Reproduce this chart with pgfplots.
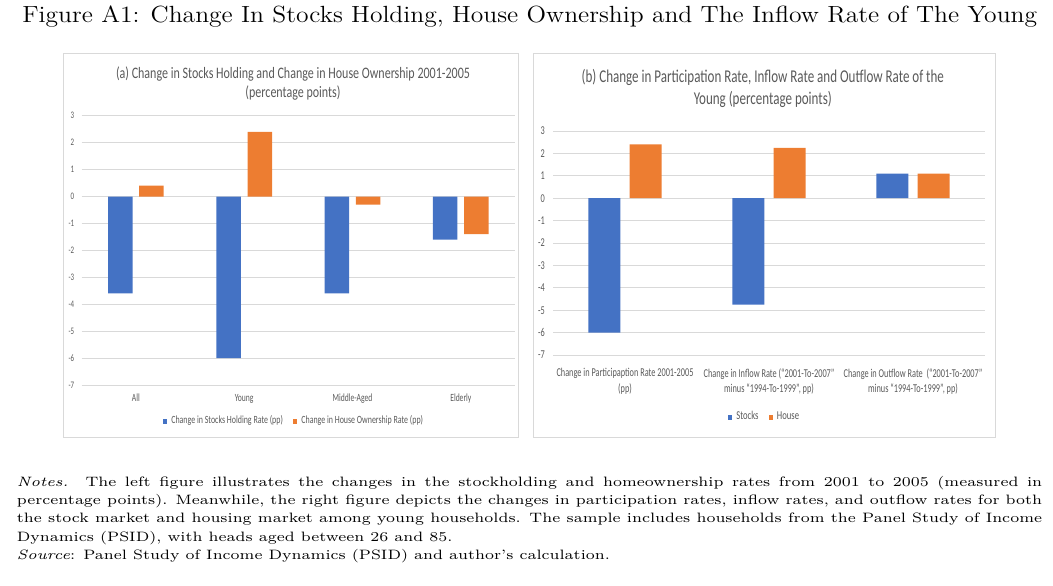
\documentclass[border=0pt]{standalone}
\usepackage{fontspec}
\usepackage{graphicx}
\usepackage{pgfplots}
\usepackage{pgfplotstable}
\pgfplotsset{compat=1.18}
\newfontfamily\carlito{Carlito}
\definecolor{xblue}{HTML}{4472C4}
\definecolor{xorange}{HTML}{ED7D31}
\definecolor{xgrid}{HTML}{D9D9D9}
\definecolor{xtext}{HTML}{595959}
\definecolor{xframe}{HTML}{D9D9D9}

\newlength\wN \newlength\wNb \newlength\wNc \newlength\wT \newlength\wA \newlength\wB
\newcommand\notesfont{\fontsize{6.8}{8}\selectfont}
\newcommand\titlefont{\fontsize{11.7}{14}\selectfont}
\newcommand\ptafont{\carlito\fontsize{8}{9.5}\selectfont}
\newcommand\ptbfont{\carlito\fontsize{9}{11}\selectfont}
\newcommand\hs[1]{\scalebox{0.72}[1]{#1}}
\newcommand\lineA{\textit{Notes.}\ \ The left figure illustrates the changes in the stockholding and homeownership rates from 2001 to 2005 (measured in}
\newcommand\lineB{percentage points). Meanwhile, the right figure depicts the changes in participation rates, inflow rates, and outflow rates for both}
\newcommand\lineC{the stock market and housing market among young households. The sample includes households from the Panel Study of Income}

\pgfplotstableread{
cat stocks house
0 -3.6 0.4
1 -6.0 2.4
2 -3.6 -0.3
3 -1.6 -1.4
}\dataA
\pgfplotstableread{
cat stocks house
0 -6.0 2.4
1 -4.75 2.25
2 1.1 1.1
}\dataB

\pgfplotsset{
  sq legend/.style={legend image code/.code={\fill[##1] (0pt,-1.25pt) rectangle (2.2pt,1.25pt);}},
  excel/.style={
    scale only axis, ybar,
    axis lines*=left, axis line style={draw=none},
    major tick length=0pt, tick style={draw=none},
    ymajorgrids, grid style={xgrid, line width=0.5pt},
    ymin=-7, ymax=3, ytick={-7,-6,...,3},
    xtick=data,
    /pgf/number format/assume math mode=true,
    tick label style={text=xtext},
    legend style={draw=none, fill=none, text=xtext, legend columns=-1, anchor=center,
      /tikz/every even column/.append style={column sep=3pt}},
  },
}

\begin{document}
\settowidth\wT{\titlefont Figure A1: Change In Stocks Holding, House Ownership and The Inflow Rate of The Young}%
\pgfmathsetmacro\sxT{507.35/\wT}%
\settowidth\wN{\notesfont\lineA}%
\settowidth\wNb{\notesfont\lineB}%
\settowidth\wNc{\notesfont\lineC}%
\ifdim\wNb>\wN \setlength\wN{\wNb}\fi
\ifdim\wNc>\wN \setlength\wN{\wNc}\fi
\pgfmathsetmacro\sxN{512.6/\wN}%
\settowidth\wA{\ptafont (a) Change in Stocks Holding and Change in House Ownership 2001-2005}%
\pgfmathsetmacro\sxA{177/\wA}%
\settowidth\wB{\ptbfont (b) Change in Participation Rate, Inflow Rate and Outflow Rate of the}%
\pgfmathsetmacro\sxB{181.15/\wB}%
\begin{tikzpicture}
\useasboundingbox (0,0) rectangle (526.5pt,-292.5pt);

% ---- figure title ----
\node[anchor=base west, inner sep=0pt] at (11pt,-11.25pt)
  {\scalebox{\sxT}[1]{\titlefont Figure A1: Change In Stocks Holding, House Ownership and The Inflow Rate of The Young}};

% ---- panel frames ----
\draw[xframe, line width=0.5pt] (31.5pt,-26.5pt) rectangle (259pt,-218.75pt);
\draw[xframe, line width=0.5pt] (266.5pt,-26.5pt) rectangle (497.5pt,-218.75pt);

% ---- panel titles ----
\node[anchor=base, inner sep=0pt, text=xtext] at (146.5pt,-39.15pt)
  {\scalebox{\sxA}[1]{\ptafont (a) Change in Stocks Holding and Change in House Ownership 2001-2005}};
\node[anchor=base, inner sep=0pt, text=xtext] at (146.5pt,-48.65pt)
  {\scalebox{\sxA}[1]{\ptafont (percentage points)}};
\node[anchor=base, inner sep=0pt, text=xtext] at (381.4pt,-41.35pt)
  {\scalebox{\sxB}[1]{\ptbfont (b) Change in Participation Rate, Inflow Rate and Outflow Rate of the}};
\node[anchor=base, inner sep=0pt, text=xtext] at (381.4pt,-52.35pt)
  {\scalebox{\sxB}[1]{\ptbfont Young (percentage points)}};

% ---- panel (a) ----
\begin{axis}[excel, at={(40.85pt,-192.5pt)}, anchor=south west,
  width=216.65pt, height=134.65pt,
  xmin=-0.5, xmax=3.5,
  xticklabels={All,Young,Middle-Aged,Elderly},
  xticklabel style={anchor=base, yshift=-8.25pt, inner sep=0pt, xscale=0.69, transform shape,
    font=\carlito\fontsize{5.5}{6.5}\selectfont},
  yticklabel style={anchor=east, inner sep=0pt, xshift=-3.6pt, xscale=0.69, transform shape,
    font=\carlito\fontsize{5}{6}\selectfont},
  legend style={at={(0.4923,-0.1337)}, font=\carlito\fontsize{5.5}{6.5}\selectfont},
]
\addplot[fill=xblue, draw=none, bar width=12.25pt, bar shift=-7.8pt, sq legend]
  table[x=cat, y=stocks]{\dataA};
\addlegendentry{\hs{Change in Stocks Holding Rate (pp)}}
\addplot[fill=xorange, draw=none, bar width=12.25pt, bar shift=7.8pt, sq legend]
  table[x=cat, y=house]{\dataA};
\addlegendentry{\hs{Change in House Ownership Rate (pp)}}
\end{axis}

% ---- panel (b) ----
\begin{axis}[excel, at={(276.5pt,-177.5pt)}, anchor=south west,
  width=216pt, height=112pt,
  xmin=-0.5, xmax=2.5,
  xticklabels={{Change in Participaption Rate 2001-2005\\(pp)},
    {Change in Inflow Rate (“2001-To-2007”\\minus “1994-To-1999”, pp)},
    {Change in Outflow Rate\ \ (“2001-To-2007”\\minus “1994-To-1999”, pp)}},
  xticklabel style={anchor=north, align=center, yshift=-6.5pt, inner sep=0pt, xscale=0.69, transform shape,
    font=\carlito\fontsize{6}{7.85}\selectfont},
  yticklabel style={anchor=east, inner sep=0pt, xshift=-4pt, xscale=0.69, transform shape,
    font=\carlito\fontsize{6}{7}\selectfont},
  legend style={at={(0.4919,-0.2768)}, font=\carlito\fontsize{6}{7}\selectfont},
]
\addplot[fill=xblue, draw=none, bar width=16pt, bar shift=-10.35pt, sq legend]
  table[x=cat, y=stocks]{\dataB};
\addlegendentry{\hs{Stocks}}
\addplot[fill=xorange, draw=none, bar width=16pt, bar shift=10.35pt, sq legend]
  table[x=cat, y=house]{\dataB};
\addlegendentry{\hs{House}}
\end{axis}

% ---- notes ----
\node[anchor=base west, inner sep=0pt] at (8.25pt,-243pt)
  {\scalebox{\sxN}[1]{\makebox[\wN][s]{\notesfont\lineA}}};
\node[anchor=base west, inner sep=0pt] at (8.25pt,-252.15pt)
  {\scalebox{\sxN}[1]{\makebox[\wN][s]{\notesfont\lineB}}};
\node[anchor=base west, inner sep=0pt] at (8.25pt,-261.35pt)
  {\scalebox{\sxN}[1]{\makebox[\wN][s]{\notesfont\lineC}}};
\node[anchor=base west, inner sep=0pt] at (8.25pt,-270.5pt)
  {\scalebox{\sxN}[1]{\notesfont Dynamics (PSID), with heads aged between 26 and 85.}};
\node[anchor=base west, inner sep=0pt] at (8.25pt,-279.65pt)
  {\scalebox{\sxN}[1]{\notesfont\textit{Source}: Panel Study of Income Dynamics (PSID) and author's calculation.}};
\end{tikzpicture}
\end{document}
